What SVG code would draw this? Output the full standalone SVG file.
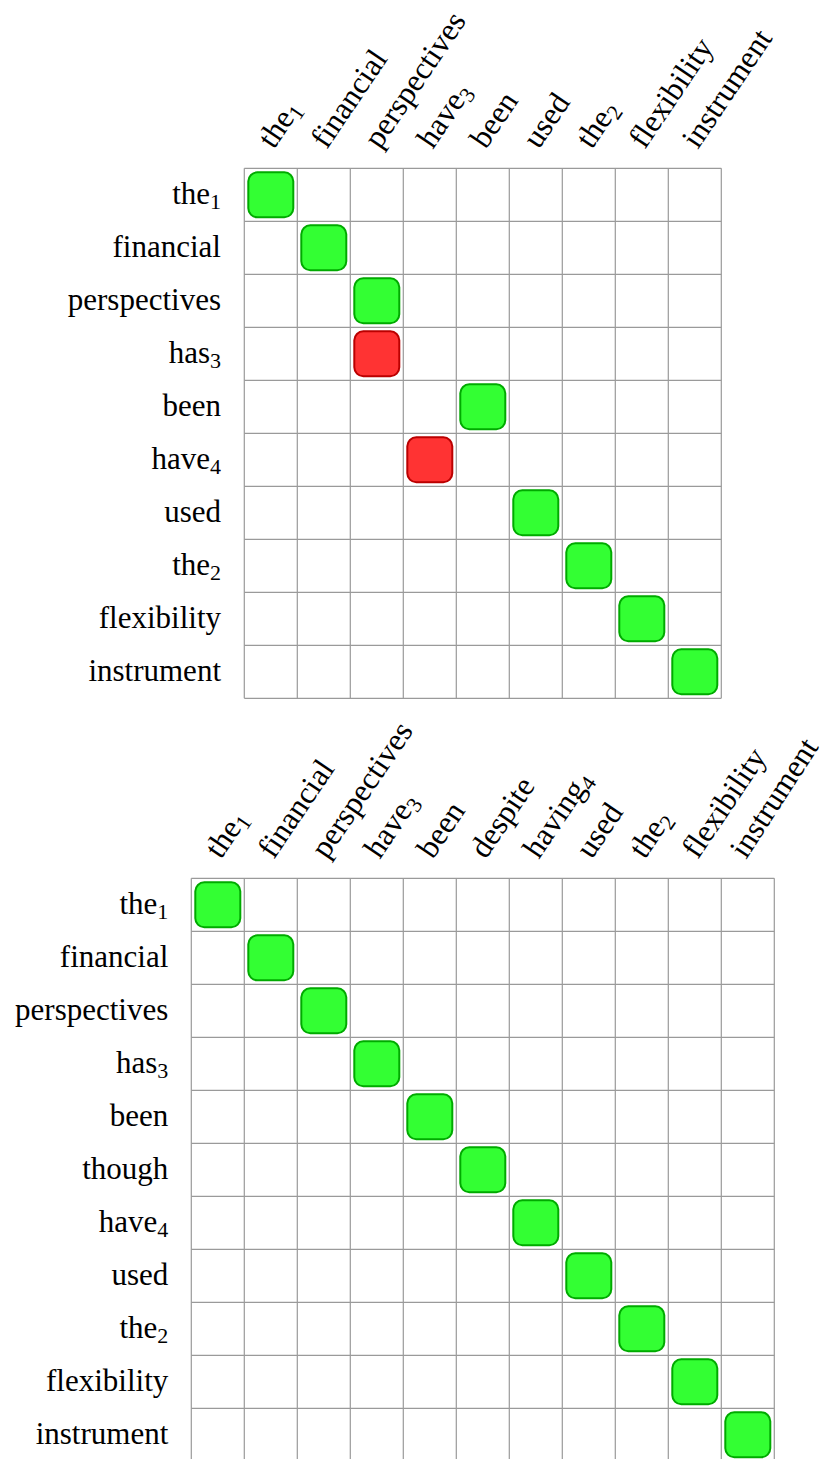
<svg xmlns="http://www.w3.org/2000/svg" width="827" height="1459" viewBox="0 0 827 1459">
<style>
.bg{fill:#ffffff}
.grid line{stroke:#9a9a9a;stroke-width:1.2}
.g{fill:#33ff33;stroke:#00aa00;stroke-width:2}
.r{fill:#ff3333;stroke:#bb0000;stroke-width:2}
text{font-family:"Liberation Serif","Times New Roman",serif;font-size:31px;fill:#000}
.rl{text-anchor:end}
.cl{font-size:31.5px}
.sub{font-size:22px}
</style>
<rect class="bg" x="0" y="0" width="827" height="1459"/>

<!-- TOP MATRIX -->
<g id="top-grid" class="grid">
<line x1="244.3" y1="168.3" x2="244.3" y2="698.3"/>
<line x1="297.3" y1="168.3" x2="297.3" y2="698.3"/>
<line x1="350.3" y1="168.3" x2="350.3" y2="698.3"/>
<line x1="403.3" y1="168.3" x2="403.3" y2="698.3"/>
<line x1="456.3" y1="168.3" x2="456.3" y2="698.3"/>
<line x1="509.3" y1="168.3" x2="509.3" y2="698.3"/>
<line x1="562.3" y1="168.3" x2="562.3" y2="698.3"/>
<line x1="615.3" y1="168.3" x2="615.3" y2="698.3"/>
<line x1="668.3" y1="168.3" x2="668.3" y2="698.3"/>
<line x1="721.3" y1="168.3" x2="721.3" y2="698.3"/>
<line x1="244.3" y1="168.3" x2="721.3" y2="168.3"/>
<line x1="244.3" y1="221.3" x2="721.3" y2="221.3"/>
<line x1="244.3" y1="274.3" x2="721.3" y2="274.3"/>
<line x1="244.3" y1="327.3" x2="721.3" y2="327.3"/>
<line x1="244.3" y1="380.3" x2="721.3" y2="380.3"/>
<line x1="244.3" y1="433.3" x2="721.3" y2="433.3"/>
<line x1="244.3" y1="486.3" x2="721.3" y2="486.3"/>
<line x1="244.3" y1="539.3" x2="721.3" y2="539.3"/>
<line x1="244.3" y1="592.3" x2="721.3" y2="592.3"/>
<line x1="244.3" y1="645.3" x2="721.3" y2="645.3"/>
<line x1="244.3" y1="698.3" x2="721.3" y2="698.3"/>
</g>

<g id="top-row-labels">
<text class="rl" x="221" y="203.8">the<tspan class="sub" dy="5">1</tspan></text>
<text class="rl" x="221" y="256.8">financial</text>
<text class="rl" x="221" y="309.8">perspectives</text>
<text class="rl" x="221" y="362.8">has<tspan class="sub" dy="5">3</tspan></text>
<text class="rl" x="221" y="415.8">been</text>
<text class="rl" x="221" y="468.8">have<tspan class="sub" dy="5">4</tspan></text>
<text class="rl" x="221" y="521.8">used</text>
<text class="rl" x="221" y="574.8">the<tspan class="sub" dy="5">2</tspan></text>
<text class="rl" x="221" y="627.8">flexibility</text>
<text class="rl" x="221" y="680.8">instrument</text>
</g>

<g id="top-col-labels">
<text class="cl" transform="translate(273.8,150) rotate(-56)">the<tspan class="sub" dy="5">1</tspan></text>
<text class="cl" transform="translate(326.8,150) rotate(-56)">financial</text>
<text class="cl" transform="translate(379.8,150) rotate(-56)">perspectives</text>
<text class="cl" transform="translate(432.8,150) rotate(-56)">have<tspan class="sub" dy="5">3</tspan></text>
<text class="cl" transform="translate(485.8,150) rotate(-56)">been</text>
<text class="cl" transform="translate(538.8,150) rotate(-56)">used</text>
<text class="cl" transform="translate(591.8,150) rotate(-56)">the<tspan class="sub" dy="5">2</tspan></text>
<text class="cl" transform="translate(644.8,150) rotate(-56)">flexibility</text>
<text class="cl" transform="translate(697.8,150) rotate(-56)">instrument</text>
</g>

<g id="top-cell-r0-c0"><rect class="g" x="248.3" y="172.3" width="45" height="45" rx="9"/></g>
<g id="top-cell-r1-c1"><rect class="g" x="301.3" y="225.3" width="45" height="45" rx="9"/></g>
<g id="top-cell-r2-c2"><rect class="g" x="354.3" y="278.3" width="45" height="45" rx="9"/></g>
<g id="top-cell-r3-c2"><rect class="r" x="354.3" y="331.3" width="45" height="45" rx="9"/></g>
<g id="top-cell-r4-c4"><rect class="g" x="460.3" y="384.3" width="45" height="45" rx="9"/></g>
<g id="top-cell-r5-c3"><rect class="r" x="407.3" y="437.3" width="45" height="45" rx="9"/></g>
<g id="top-cell-r6-c5"><rect class="g" x="513.3" y="490.3" width="45" height="45" rx="9"/></g>
<g id="top-cell-r7-c6"><rect class="g" x="566.3" y="543.3" width="45" height="45" rx="9"/></g>
<g id="top-cell-r8-c7"><rect class="g" x="619.3" y="596.3" width="45" height="45" rx="9"/></g>
<g id="top-cell-r9-c8"><rect class="g" x="672.3" y="649.3" width="45" height="45" rx="9"/></g>

<!-- BOTTOM MATRIX -->
<g id="bottom-grid" class="grid">
<line x1="191.3" y1="878.3" x2="191.3" y2="1461.3"/>
<line x1="244.3" y1="878.3" x2="244.3" y2="1461.3"/>
<line x1="297.3" y1="878.3" x2="297.3" y2="1461.3"/>
<line x1="350.3" y1="878.3" x2="350.3" y2="1461.3"/>
<line x1="403.3" y1="878.3" x2="403.3" y2="1461.3"/>
<line x1="456.3" y1="878.3" x2="456.3" y2="1461.3"/>
<line x1="509.3" y1="878.3" x2="509.3" y2="1461.3"/>
<line x1="562.3" y1="878.3" x2="562.3" y2="1461.3"/>
<line x1="615.3" y1="878.3" x2="615.3" y2="1461.3"/>
<line x1="668.3" y1="878.3" x2="668.3" y2="1461.3"/>
<line x1="721.3" y1="878.3" x2="721.3" y2="1461.3"/>
<line x1="774.3" y1="878.3" x2="774.3" y2="1461.3"/>
<line x1="191.3" y1="878.3" x2="774.3" y2="878.3"/>
<line x1="191.3" y1="931.3" x2="774.3" y2="931.3"/>
<line x1="191.3" y1="984.3" x2="774.3" y2="984.3"/>
<line x1="191.3" y1="1037.3" x2="774.3" y2="1037.3"/>
<line x1="191.3" y1="1090.3" x2="774.3" y2="1090.3"/>
<line x1="191.3" y1="1143.3" x2="774.3" y2="1143.3"/>
<line x1="191.3" y1="1196.3" x2="774.3" y2="1196.3"/>
<line x1="191.3" y1="1249.3" x2="774.3" y2="1249.3"/>
<line x1="191.3" y1="1302.3" x2="774.3" y2="1302.3"/>
<line x1="191.3" y1="1355.3" x2="774.3" y2="1355.3"/>
<line x1="191.3" y1="1408.3" x2="774.3" y2="1408.3"/>
<line x1="191.3" y1="1461.3" x2="774.3" y2="1461.3"/>
</g>

<g id="bottom-row-labels">
<text class="rl" x="168.3" y="913.8">the<tspan class="sub" dy="5">1</tspan></text>
<text class="rl" x="168.3" y="966.8">financial</text>
<text class="rl" x="168.3" y="1019.8">perspectives</text>
<text class="rl" x="168.3" y="1072.8">has<tspan class="sub" dy="5">3</tspan></text>
<text class="rl" x="168.3" y="1125.8">been</text>
<text class="rl" x="168.3" y="1178.8">though</text>
<text class="rl" x="168.3" y="1231.8">have<tspan class="sub" dy="5">4</tspan></text>
<text class="rl" x="168.3" y="1284.8">used</text>
<text class="rl" x="168.3" y="1337.8">the<tspan class="sub" dy="5">2</tspan></text>
<text class="rl" x="168.3" y="1390.8">flexibility</text>
<text class="rl" x="168.3" y="1443.8">instrument</text>
</g>

<g id="bottom-col-labels">
<text class="cl" transform="translate(220.8,860) rotate(-56)">the<tspan class="sub" dy="5">1</tspan></text>
<text class="cl" transform="translate(273.8,860) rotate(-56)">financial</text>
<text class="cl" transform="translate(326.8,860) rotate(-56)">perspectives</text>
<text class="cl" transform="translate(379.8,860) rotate(-56)">have<tspan class="sub" dy="5">3</tspan></text>
<text class="cl" transform="translate(432.8,860) rotate(-56)">been</text>
<text class="cl" transform="translate(485.8,860) rotate(-56)">despite</text>
<text class="cl" transform="translate(538.8,860) rotate(-56)">having<tspan class="sub" dy="5">4</tspan></text>
<text class="cl" transform="translate(591.8,860) rotate(-56)">used</text>
<text class="cl" transform="translate(644.8,860) rotate(-56)">the<tspan class="sub" dy="5">2</tspan></text>
<text class="cl" transform="translate(697.8,860) rotate(-56)">flexibility</text>
<text class="cl" transform="translate(746,860) rotate(-57)">instrument</text>
</g>

<g id="bottom-cell-0"><rect class="g" x="195.3" y="882.3" width="45" height="45" rx="9"/></g>
<g id="bottom-cell-1"><rect class="g" x="248.3" y="935.3" width="45" height="45" rx="9"/></g>
<g id="bottom-cell-2"><rect class="g" x="301.3" y="988.3" width="45" height="45" rx="9"/></g>
<g id="bottom-cell-3"><rect class="g" x="354.3" y="1041.3" width="45" height="45" rx="9"/></g>
<g id="bottom-cell-4"><rect class="g" x="407.3" y="1094.3" width="45" height="45" rx="9"/></g>
<g id="bottom-cell-5"><rect class="g" x="460.3" y="1147.3" width="45" height="45" rx="9"/></g>
<g id="bottom-cell-6"><rect class="g" x="513.3" y="1200.3" width="45" height="45" rx="9"/></g>
<g id="bottom-cell-7"><rect class="g" x="566.3" y="1253.3" width="45" height="45" rx="9"/></g>
<g id="bottom-cell-8"><rect class="g" x="619.3" y="1306.3" width="45" height="45" rx="9"/></g>
<g id="bottom-cell-9"><rect class="g" x="672.3" y="1359.3" width="45" height="45" rx="9"/></g>
<g id="bottom-cell-10"><rect class="g" x="725.3" y="1412.3" width="45" height="45" rx="9"/></g>
</svg>
